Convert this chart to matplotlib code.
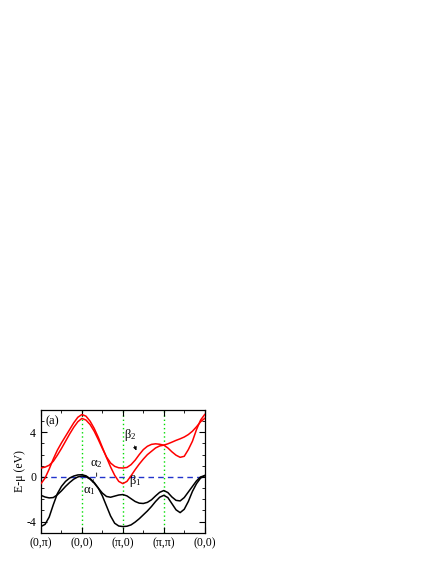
import matplotlib
matplotlib.use("Agg")
import matplotlib.pyplot as plt
from matplotlib.ticker import MultipleLocator, FixedLocator

plt.rcParams['font.family'] = ['Liberation Serif', 'DejaVu Serif']
plt.rcParams['mathtext.fontset'] = 'custom'
plt.rcParams['mathtext.rm'] = 'Liberation Serif'
plt.rcParams['mathtext.it'] = 'Liberation Serif'

# k-path coordinate (high-symmetry points at 0,1,2,3,4)
k = [i / 10 for i in range(41)]
k_ticks = [0, 1, 2, 3, 4]
k_labels = ['(0,π)', '(0,0)', '(π,0)', '(π,π)', '(0,0)']

# red bands (beta)
beta_a = [0.8, 0.88, 1.05, 1.4, 1.95, 2.55, 3.2, 3.85, 4.45, 4.95, 5.25,
          5.1, 4.7, 4.1, 3.35, 2.55, 1.8, 1.25, 0.95, 0.82, 0.8,
          0.85, 1.1, 1.5, 2.0, 2.45, 2.75, 2.92, 2.97, 2.93, 2.85,
          2.97, 3.12, 3.28, 3.42, 3.58, 3.8, 4.1, 4.5, 4.95, 5.25]
beta_b = [-0.6, -0.1, 0.7, 1.6, 2.4, 3.05, 3.65, 4.25, 4.85, 5.35, 5.6,
          5.45, 5.0, 4.35, 3.55, 2.65, 1.75, 0.9, 0.15, -0.4, -0.6,
          -0.4, 0.1, 0.65, 1.15, 1.6, 2.0, 2.3, 2.6, 2.78, 2.85,
          2.6, 2.25, 1.95, 1.76, 1.85, 2.45, 3.2, 4.25, 5.1, 5.6]

# black bands (alpha)
alpha_c = [-4.45, -4.25, -3.6, -2.5, -1.5, -0.85, -0.4, -0.1, 0.08, 0.18, 0.2,
           0.1, -0.15, -0.5, -1.0, -1.7, -2.6, -3.5, -4.15, -4.4, -4.45,
           -4.42, -4.3, -4.05, -3.75, -3.4, -3.05, -2.65, -2.2, -1.82, -1.65,
           -1.85, -2.4, -2.95, -3.2, -2.9, -2.2, -1.3, -0.6, -0.1, 0.12]
alpha_d = [-1.65, -1.8, -1.88, -1.85, -1.6, -1.25, -0.85, -0.5, -0.2, 0.0, 0.08,
           0.02, -0.2, -0.55, -1.0, -1.45, -1.75, -1.82, -1.72, -1.62, -1.58,
           -1.7, -1.95, -2.2, -2.35, -2.38, -2.28, -2.05, -1.7, -1.38, -1.22,
           -1.4, -1.8, -2.1, -2.15, -1.85, -1.35, -0.85, -0.35, 0.0, 0.12]

fig = plt.figure(figsize=(4.36, 5.64), dpi=100)
ax = fig.add_axes([0.094, 0.0555, 0.3755, 0.2175])

for xv in [1, 2, 3]:
    ax.axvline(xv, color='#00dd00', ls=(0, (1, 2)), lw=1.0, zorder=1)
ax.axhline(0, color='#2233cc', ls=(0, (4, 3)), lw=1.0, zorder=1)

ax.plot(k, beta_a, color='#ff0000', lw=1.1, zorder=3)
ax.plot(k, beta_b, color='#ff0000', lw=1.1, zorder=3)
ax.plot(k, alpha_c, color='black', lw=1.1, zorder=3)
ax.plot(k, alpha_d, color='black', lw=1.1, zorder=3)

ax.set_xlim(0, 4)
ax.set_ylim(-5, 6)
ax.xaxis.set_major_locator(FixedLocator(k_ticks))
ax.set_xticklabels(k_labels)
ax.xaxis.set_minor_locator(MultipleLocator(0.5))
ax.yaxis.set_major_locator(FixedLocator([-4, 0, 4]))
ax.set_yticklabels(['-4', '0', '4'])
ax.yaxis.set_minor_locator(MultipleLocator(1))
ax.tick_params(which='both', direction='in', top=True, right=True, labelsize=8.5)
ax.tick_params(which='major', length=4, width=0.8)
ax.tick_params(which='minor', length=2, width=0.6)
for s in ax.spines.values():
    s.set_linewidth(0.9)

ax.set_ylabel('E-μ (eV)', fontsize=8.5, labelpad=0.5)

ax.text(0.28, 5.0, '(a)', fontsize=9, ha='center', va='center')
ax.annotate('β$_2$', xy=(2.33, 2.37), xytext=(2.18, 3.75), fontsize=9,
            ha='center', va='center',
            arrowprops=dict(arrowstyle='-|>', lw=0.6, color='black',
                            mutation_scale=5, shrinkA=5, shrinkB=0))
ax.text(2.3, -0.4, 'β$_1$', fontsize=9, ha='center', va='center')
ax.annotate('α$_2$', xy=(1.36, 0.05), xytext=(1.36, 1.15), fontsize=9,
            ha='center', va='center',
            arrowprops=dict(arrowstyle='-', lw=0.6, color='black',
                            shrinkA=4, shrinkB=0))
ax.annotate('α$_1$', xy=(1.28, -0.24), xytext=(1.18, -1.25), fontsize=9,
            ha='center', va='center',
            arrowprops=dict(arrowstyle='-', lw=0.6, color='black',
                            shrinkA=5, shrinkB=0))

fig.savefig('out.png', dpi=100)
